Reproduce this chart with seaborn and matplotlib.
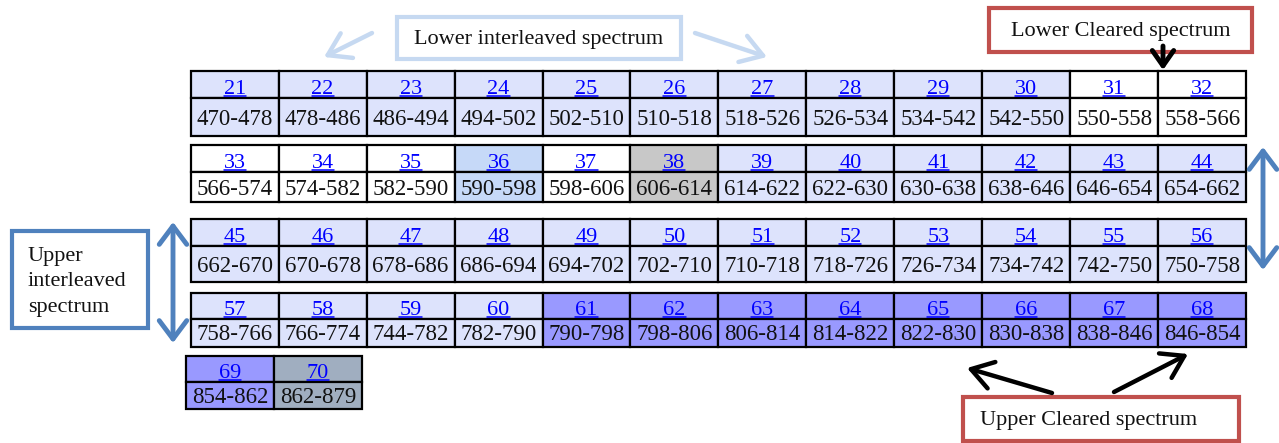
import matplotlib.pyplot as plt
import seaborn as sns
from matplotlib.patches import Rectangle

# channel numbers, frequency ranges (MHz) and what each channel is used for
channels = ['21', '22', '23', '24', '25', '26', '27', '28', '29', '30', '31', '32',
            '33', '34', '35', '36', '37', '38', '39', '40', '41', '42', '43', '44',
            '45', '46', '47', '48', '49', '50', '51', '52', '53', '54', '55', '56',
            '57', '58', '59', '60', '61', '62', '63', '64', '65', '66', '67', '68',
            '69', '70']
freq_ranges = ['470-478', '478-486', '486-494', '494-502', '502-510', '510-518',
               '518-526', '526-534', '534-542', '542-550', '550-558', '558-566',
               '566-574', '574-582', '582-590', '590-598', '598-606', '606-614',
               '614-622', '622-630', '630-638', '638-646', '646-654', '654-662',
               '662-670', '670-678', '678-686', '686-694', '694-702', '702-710',
               '710-718', '718-726', '726-734', '734-742', '742-750', '750-758',
               '758-766', '766-774', '744-782', '782-790', '790-798', '798-806',
               '806-814', '814-822', '822-830', '830-838', '838-846', '846-854',
               '854-862', '862-879']
usage = ['inter'] * 10 + ['free'] * 2 + \
        ['free', 'free', 'free', 'ch36', 'free', 'ch38'] + ['inter'] * 6 + \
        ['inter'] * 12 + \
        ['inter'] * 4 + ['cleared'] * 8 + \
        ['cleared', 'ch70']

usage_colours = {'inter': '#dde3fc', 'free': '#ffffff', 'ch36': '#c6d9f8',
                 'ch38': '#c8c8c8', 'cleared': '#9999ff', 'ch70': '#a0aec0'}

# layout of the table bands (pixel units)
band_top = [71, 145, 219, 293, 356]
band_mid = [98, 172, 246, 319, 382]
band_bot = [136, 202, 282, 347, 409]
band_x0 = [190.7, 190.7, 190.7, 190.7, 186]
band_cw = [87.95, 87.95, 87.95, 87.95, 88]
per_band = 12

sns.set_theme(style='white')
plt.rcParams['font.family'] = ['Liberation Serif', 'DejaVu Serif']

fig = plt.figure(figsize=(12.79, 4.43), dpi=100)
ax = fig.add_axes([0, 0, 1, 1])
ax.set_xlim(0, 1279)
ax.set_ylim(443, 0)
ax.axis('off')

num_texts = []
for k, ch in enumerate(channels):
    r = k // per_band
    c = k % per_band
    cw = band_cw[r]
    x = band_x0[r] + c * cw
    top, mid, bot = band_top[r], band_mid[r], band_bot[r]
    col = usage_colours[usage[k]]
    ax.bar(x, mid - top, bottom=top, width=cw, align='edge', color=col,
           edgecolor='black', linewidth=1.6)
    ax.bar(x, bot - mid, bottom=mid, width=cw, align='edge', color=col,
           edgecolor='black', linewidth=1.6)
    t = ax.text(x + cw / 2, mid - 4, ch, ha='center', va='baseline',
                color='#0000ff', fontsize=16)
    num_texts.append((t, mid - 4))
    ax.text(x + cw / 2, (mid + bot) / 2 + 7.5, freq_ranges[k], ha='center',
            va='baseline', color='#111111', fontsize=16.5)

# underline the channel numbers like hyperlinks
fig.canvas.draw()
renderer = fig.canvas.get_renderer()
inv = ax.transData.inverted()
for t, yb in num_texts:
    bb = t.get_window_extent(renderer)
    (xa, _), (xb, _) = inv.transform([[bb.x0, bb.y0], [bb.x1, bb.y1]])
    ax.plot([xa, xb], [yb + 2.4, yb + 2.4], color='#0000ff', lw=1.1)

# annotation boxes
def label_box(x0, y0, x1, y1, edge, text, lw=3, **kw):
    ax.add_patch(Rectangle((x0, y0), x1 - x0, y1 - y0, facecolor='white',
                           edgecolor=edge, linewidth=lw, zorder=3))
    ax.text(kw.pop('tx', (x0 + x1) / 2), kw.pop('ty', (y0 + y1) / 2), text,
            fontsize=16, color='#111111', zorder=4, **kw)

def arrow(x0, y0, x1, y1, colour, lw, style):
    ax.annotate('', xy=(x1, y1), xytext=(x0, y0), zorder=5,
                arrowprops=dict(arrowstyle=style, color=colour, lw=lw,
                                mutation_scale=22, shrinkA=0, shrinkB=0))

label_box(397, 17, 681, 59, '#c6d9f1', 'Lower interleaved spectrum',
          ha='center', va='center', ty=39)
arrow(372, 33, 324, 57, '#c6d9f1', 3.2, '->,head_length=0.7,head_width=0.45')
arrow(695, 33, 767, 57, '#c6d9f1', 3.2, '->,head_length=0.7,head_width=0.45')

label_box(989, 8, 1252, 52, '#c0504d', 'Lower Cleared spectrum',
          ha='center', va='center', ty=31)
arrow(1163, 46, 1163, 70, 'black', 3.5, '->,head_length=0.5,head_width=0.35')

label_box(12, 231, 148, 328, '#4f81bd', 'Upper\ninterleaved\nspectrum',
          ha='left', va='center', tx=28, ty=282, linespacing=1.45)
arrow(173, 222, 173, 343, '#4f81bd', 3.5, '<->,head_length=0.6,head_width=0.45')
arrow(1263, 147, 1263, 270, '#4f81bd', 3.5, '<->,head_length=0.6,head_width=0.45')

label_box(963, 397, 1239, 441, '#c0504d', 'Upper Cleared spectrum',
          ha='center', va='center', tx=1089, ty=421)
arrow(1052, 393, 967, 368, 'black', 3.2, '->,head_length=0.7,head_width=0.45')
arrow(1114, 392, 1188, 354, 'black', 3.2, '->,head_length=0.7,head_width=0.45')

fig.savefig('out.png', dpi=100)
